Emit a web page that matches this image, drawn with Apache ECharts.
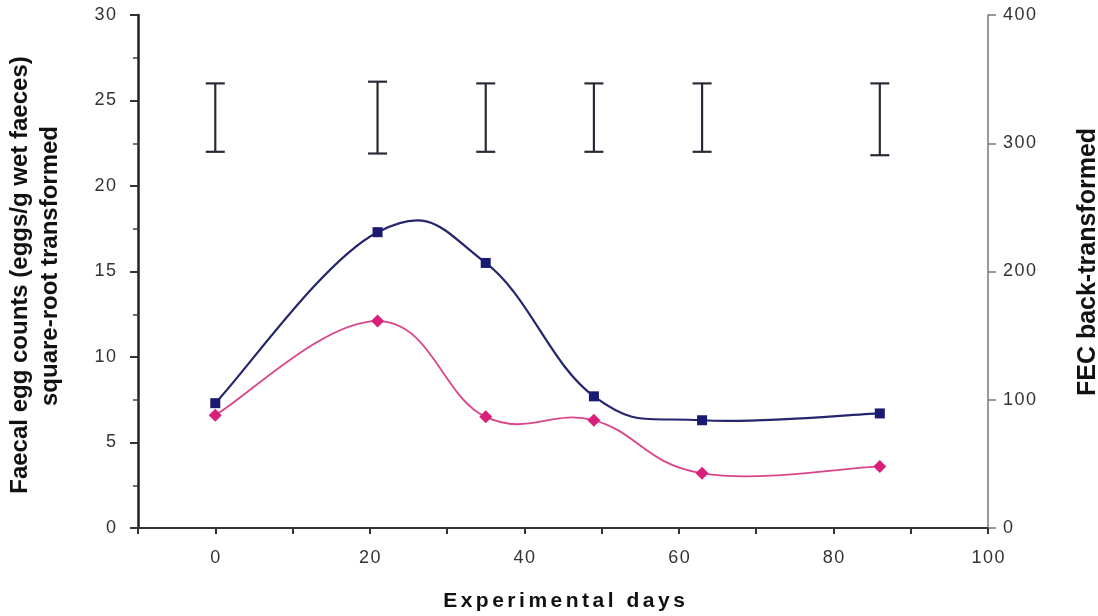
<!DOCTYPE html>
<html>
<head>
<meta charset="utf-8">
<script src="https://cdn.jsdelivr.net/npm/echarts@6/dist/echarts.min.js"></script>
<style>
  html, body { margin: 0; padding: 0; background: #ffffff; }
  #chart { width: 1098px; height: 616px; }
</style>
</head>
<body>
<div id="chart"></div>
<script>
// Sampling days and the two square-root transformed FEC series
const days = [0, 21, 35, 49, 63, 86];
const fecSquares = [7.3, 17.3, 15.5, 7.7, 6.3, 6.7];
const fecDiamonds = [6.6, 12.1, 6.5, 6.3, 3.2, 3.6];

// Standard-error bars drawn above the curves at each sampling day
const errLow = [22.0, 21.9, 22.0, 22.0, 22.0, 21.8];
const errHigh = [26.0, 26.1, 26.0, 26.0, 26.0, 26.0];

// Labelled ticks on the day axis
const xTickLabels = [0, 20, 40, 60, 80, 100];

const FONT = '"Liberation Sans", Arial, sans-serif';
const spaced = (s, gap) => String(s).split('').join(gap || '\u200A');

// Cardinal-spline segment between point i and i+1, projected through the axes
const TENSION = 0.2;
function splineSegment(values, color, width) {
  return (params, api) => {
    const i = params.dataIndex;
    const n = days.length;
    if (i >= n - 1) return null;
    const pt = j => api.coord([days[Math.max(0, Math.min(n - 1, j))], values[Math.max(0, Math.min(n - 1, j))]]);
    const p0 = pt(i - 1), p1 = pt(i), p2 = pt(i + 1), p3 = pt(i + 2);
    return {
      type: 'bezierCurve',
      shape: {
        x1: p1[0], y1: p1[1],
        x2: p2[0], y2: p2[1],
        cpx1: p1[0] + (p2[0] - p0[0]) * TENSION,
        cpy1: p1[1] + (p2[1] - p0[1]) * TENSION,
        cpx2: p2[0] - (p3[0] - p1[0]) * TENSION,
        cpy2: p2[1] - (p3[1] - p1[1]) * TENSION
      },
      style: { stroke: color, lineWidth: width, fill: null }
    };
  };
}

const chart = echarts.init(document.getElementById('chart'), null, { renderer: 'canvas' });

const option = {
  backgroundColor: '#ffffff',
  animation: false,
  grid: { left: 138, right: 110, top: 15, bottom: 88 },
  xAxis: {
    type: 'value',
    min: -10,
    max: 100,
    interval: 10,
    splitLine: { show: false },
    axisLine: { show: true, onZero: false, lineStyle: { color: '#333', width: 2 } },
    axisTick: { show: true, length: 6, lineStyle: { color: '#333', width: 2 } },
    axisLabel: {
      fontFamily: FONT, fontSize: 18, color: '#333', margin: 21,
      formatter: v => (xTickLabels.includes(v) ? spaced(v) : '')
    }
  },
  yAxis: [
    {
      type: 'value',
      position: 'left',
      min: 0,
      max: 30,
      interval: 5,
      splitLine: { show: false },
      axisLine: { show: true, onZero: false, lineStyle: { color: '#222', width: 2.5 } },
      axisTick: { show: true, length: 8, lineStyle: { color: '#333', width: 2 } },
      minorTick: { show: true, splitNumber: 2, length: 5, lineStyle: { color: '#444', width: 1.5 } },
      axisLabel: { fontFamily: FONT, fontSize: 18, color: '#333', margin: 22, formatter: v => spaced(v) }
    },
    {
      type: 'value',
      position: 'right',
      min: 0,
      max: 400,
      interval: 100,
      splitLine: { show: false },
      axisLine: { show: true, onZero: false, lineStyle: { color: '#777', width: 1.5 } },
      axisTick: { show: true, length: 8, lineStyle: { color: '#777', width: 1.5 } },
      axisLabel: { fontFamily: FONT, fontSize: 18, color: '#333', margin: 15, padding: [6, 0, 0, 0], formatter: v => spaced(v) }
    }
  ],
  series: [
    {
      name: 'Error bars',
      type: 'custom',
      yAxisIndex: 0,
      data: days.map((d, i) => [d, errLow[i], errHigh[i]]),
      renderItem: (params, api) => {
        const x = api.value(0);
        const lo = api.coord([x, api.value(1)]);
        const hi = api.coord([x, api.value(2)]);
        const w = 9.5;
        const style = { stroke: '#2a2a36', lineWidth: 2.2 };
        return {
          type: 'group',
          children: [
            { type: 'line', shape: { x1: hi[0], y1: hi[1], x2: lo[0], y2: lo[1] }, style },
            { type: 'line', shape: { x1: hi[0] - w, y1: hi[1], x2: hi[0] + w, y2: hi[1] }, style },
            { type: 'line', shape: { x1: lo[0] - w, y1: lo[1], x2: lo[0] + w, y2: lo[1] }, style }
          ]
        };
      }
    },
    {
      name: 'Curve squares',
      type: 'custom',
      yAxisIndex: 0,
      data: days.map((d, i) => [d, fecSquares[i]]),
      renderItem: splineSegment(fecSquares, '#25256e', 2.2),
      z: 2
    },
    {
      name: 'Curve diamonds',
      type: 'custom',
      yAxisIndex: 0,
      data: days.map((d, i) => [d, fecDiamonds[i]]),
      renderItem: splineSegment(fecDiamonds, '#d9458a', 1.8),
      z: 2
    },
    {
      name: 'Group squares',
      type: 'scatter',
      yAxisIndex: 0,
      data: days.map((d, i) => [d, fecSquares[i]]),
      symbol: 'rect',
      symbolSize: 10,
      itemStyle: { color: '#1a1a72', opacity: 1 },
      z: 4
    },
    {
      name: 'Group diamonds',
      type: 'scatter',
      yAxisIndex: 0,
      data: days.map((d, i) => [d, fecDiamonds[i]]),
      symbol: 'diamond',
      symbolSize: 13,
      itemStyle: { color: '#d81f7a', opacity: 1 },
      z: 4
    }
  ],
  graphic: [
    {
      type: 'text', x: 20, y: 275, rotation: Math.PI / 2,
      style: { text: 'Faecal egg counts (eggs/g wet faeces)', font: 'bold 24px ' + FONT, fill: '#111', textAlign: 'center', textVerticalAlign: 'middle' }
    },
    {
      type: 'text', x: 50, y: 266, rotation: Math.PI / 2,
      style: { text: 'square-root transformed', font: 'bold 24px ' + FONT, fill: '#111', textAlign: 'center', textVerticalAlign: 'middle' }
    },
    {
      type: 'text', x: 1088, y: 262, rotation: Math.PI / 2,
      style: { text: 'FEC back-transformed', font: 'bold 25px ' + FONT, fill: '#111', textAlign: 'center', textVerticalAlign: 'middle' }
    },
    {
      type: 'text', x: 564, y: 601,
      style: { text: spaced('Experimental days', '\u200A\u200A'), font: 'bold 21px ' + FONT, fill: '#111', textAlign: 'center', textVerticalAlign: 'middle' }
    }
  ]
};

chart.setOption(option);
</script>
</body>
</html>
